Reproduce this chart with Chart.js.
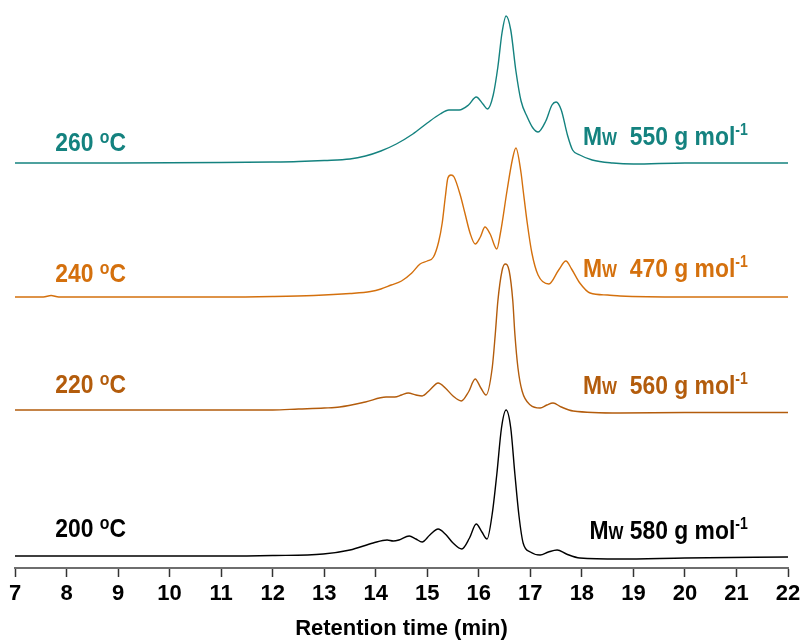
<!DOCTYPE html>
<html>
<head>
<meta charset="utf-8">
<title>GPC traces</title>
<script src="https://cdn.jsdelivr.net/npm/chart.js@4.4.1/dist/chart.umd.min.js"></script>
<style>
  html, body { margin: 0; padding: 0; background: #fff; }
  #wrap { width: 805px; height: 642px; position: relative; }
</style>
</head>
<body>
<div id="wrap"><canvas id="gpc"></canvas></div>
<script>
// retention time (min) and detector signal (a.u.) for each reaction temperature
const t260 = [7, 9, 11, 12, 12.5, 13, 13.5, 13.8, 14.1, 14.4, 14.72, 15.0, 15.25, 15.42, 15.62, 15.8, 15.95, 16.08, 16.17, 16.28, 16.37, 16.45, 16.53, 16.62, 16.72, 16.82, 16.94, 17.05, 17.15, 17.3, 17.42, 17.5, 17.6, 17.72, 17.82, 17.96, 18.2, 18.6, 19, 20, 21, 22];
const s260 = [0, 0, 0.5, 1, 1.5, 2.5, 4, 7, 12, 19, 29, 40, 49, 53, 53, 58, 66, 59, 54, 68, 96, 130, 147, 133, 92, 62, 46, 35, 31, 42, 58, 61, 53, 28, 13, 8, 3, 0, -1, 0, 0, 0];

const t240 = [7, 7.55, 7.7, 7.85, 9, 11, 12, 12.8, 13.5, 13.9, 14.1, 14.3, 14.5, 14.7, 14.86, 15.0, 15.12, 15.22, 15.29, 15.35, 15.4, 15.46, 15.52, 15.64, 15.73, 15.83, 15.93, 16.03, 16.12, 16.22, 16.35, 16.42, 16.55, 16.65, 16.72, 16.82, 16.86, 16.94, 17.03, 17.15, 17.36, 17.55, 17.69, 17.8, 17.96, 18.16, 18.5, 18.74, 20, 22];
const s240 = [0, 0, 1.5, 0, 0, 0, 0.5, 1.5, 3.5, 5.5, 8, 12, 16, 24, 33, 36, 40, 55, 74, 100, 119, 122, 120, 102, 84, 64, 53, 60, 70, 63, 48, 64, 107, 137, 149, 124, 107, 74, 44, 22, 13, 27, 36, 28, 14, 4, 2, 1, 0, 0];

const t220 = [7, 9, 11, 12, 12.5, 13, 13.3, 13.8, 14.2, 14.37, 14.5, 14.63, 14.78, 14.9, 15.05, 15.21, 15.35, 15.5, 15.66, 15.8, 15.93, 16.04, 16.14, 16.26, 16.32, 16.37, 16.45, 16.51, 16.59, 16.66, 16.7, 16.76, 16.84, 17.0, 17.19, 17.32, 17.44, 17.6, 17.83, 18.74, 20, 22];
const s220 = [0, 0, 0, 0, 1, 2, 3, 8, 13, 13, 15, 17, 15, 14, 20, 27, 22, 14, 9, 18, 31, 22, 15, 42, 76, 109, 139, 146, 139, 109, 76, 42, 19, 5, 2, 5, 7, 3, -1, -3, -2.5, -2.5];

const t200 = [7, 9, 11, 12, 12.98, 13.5, 13.95, 14.22, 14.34, 14.45, 14.65, 14.78, 14.9, 15.05, 15.21, 15.35, 15.5, 15.67, 15.82, 15.95, 16.06, 16.16, 16.26, 16.35, 16.44, 16.53, 16.62, 16.7, 16.78, 16.86, 17.0, 17.19, 17.35, 17.52, 17.7, 17.96, 18.74, 20, 22];
const s200 = [0, 0, 0, 0.5, 2, 6, 13, 16, 15, 16, 20, 17, 14, 21, 27, 22, 13, 7, 18, 32, 24, 17, 42, 82, 128, 146, 128, 82, 40, 13, 4, 1, 4, 6, 2, -2, -3, -2, -1];

// vertical stacking of the traces
const offsets = [405, 271, 158, 12];
const temperatures = ['260', '240', '220', '200'];
const mwValues = ['550', '470', '560', '580'];
const xTicks = [7, 8, 9, 10, 11, 12, 13, 14, 15, 16, 17, 18, 19, 20, 21, 22];

const colors = ['#14827f', '#d4700d', '#b35c0c', '#000000'];
const traces = [[t260, s260], [t240, s240], [t220, s220], [t200, s200]];

const datasets = traces.map(([t, s], i) => ({
  label: temperatures[i] + ' °C',
  data: t.map((x, k) => ({ x: x, y: s[k] + offsets[i] })),
  borderColor: colors[i],
  borderWidth: 1.4,
  pointRadius: 0,
  fill: false,
  cubicInterpolationMode: 'monotone',
}));

const axisFont = "'Liberation Sans', Arial, sans-serif";
const labelFont = "bold {s}px 'Liberation Sans', Arial, sans-serif";
const squeeze = 0.88;

// draws a run of text pieces (different sizes / raised superscripts), narrowed horizontally
function drawRich(ctx, parts, x, y, align) {
  let total = 0;
  parts.forEach((p) => {
    ctx.font = labelFont.replace('{s}', p.size);
    p.w = ctx.measureText(p.text).width * squeeze;
    total += p.w;
  });
  let cx = align === 'right' ? x - total : x;
  parts.forEach((p) => {
    ctx.font = labelFont.replace('{s}', p.size);
    ctx.save();
    ctx.translate(cx, y - (p.rise || 0));
    ctx.scale(squeeze, 1);
    ctx.fillText(p.text, 0, 0);
    ctx.restore();
    cx += p.w;
  });
}

// temperature on the left, Mw on the right of each trace
const traceLabels = {
  id: 'traceLabels',
  afterDatasetsDraw(chart) {
    const { ctx, scales } = chart;
    const xs = scales.x, ys = scales.y;
    const tempLift = [12, 15, 17, 19];
    const mwLift = [18, 20, 16, 17];
    ctx.save();
    ctx.textBaseline = 'alphabetic';
    temperatures.forEach((temp, i) => {
      ctx.fillStyle = colors[i];
      const base = ys.getPixelForValue(offsets[i]);
      drawRich(ctx, [
        { text: temp + ' ', size: 26 },
        { text: 'o', size: 18, rise: 8 },
        { text: 'C', size: 26 },
      ], xs.getPixelForValue(7.78), base - tempLift[i], 'left');
      const gap = i === 3 ? ' ' : '  ';
      drawRich(ctx, [
        { text: 'M', size: 26 },
        { text: 'W', size: 18 },
        { text: gap + mwValues[i] + ' g mol', size: 26 },
        { text: '-1', size: 16, rise: 10 },
      ], xs.getPixelForValue(21.22), base - mwLift[i], 'right');
    });
    ctx.restore();
  },
};

new Chart(document.getElementById('gpc'), {
  type: 'line',
  data: { datasets: datasets },
  options: {
    responsive: true,
    maintainAspectRatio: false,
    animation: false,
    layout: { padding: { left: 15, right: 17, top: 0, bottom: 0 } },
    plugins: { legend: { display: false }, tooltip: { enabled: false } },
    scales: {
      x: {
        type: 'linear',
        min: 7,
        max: 22,
        afterBuildTicks: (scale) => {
          scale.ticks = xTicks.map((v) => ({ value: v }));
        },
        afterFit: (scale) => {
          scale.height = 74;
        },
        grid: {
          drawOnChartArea: false,
          drawTicks: true,
          tickLength: 9,
          tickColor: '#333',
          tickWidth: 1.5,
        },
        border: { display: true, color: '#6e6e6e', width: 2 },
        ticks: {
          color: '#000',
          padding: 4,
          maxRotation: 0,
          autoSkip: false,
          font: { family: axisFont, size: 22, weight: 'bold' },
        },
        title: {
          display: true,
          text: 'Retention time (min)',
          color: '#000',
          padding: { top: 0, bottom: 0 },
          font: { family: axisFont, size: 22, weight: 'bold' },
        },
      },
      y: {
        display: false,
        min: 0,
        max: 568,
      },
    },
  },
  plugins: [traceLabels],
});
</script>
</body>
</html>
